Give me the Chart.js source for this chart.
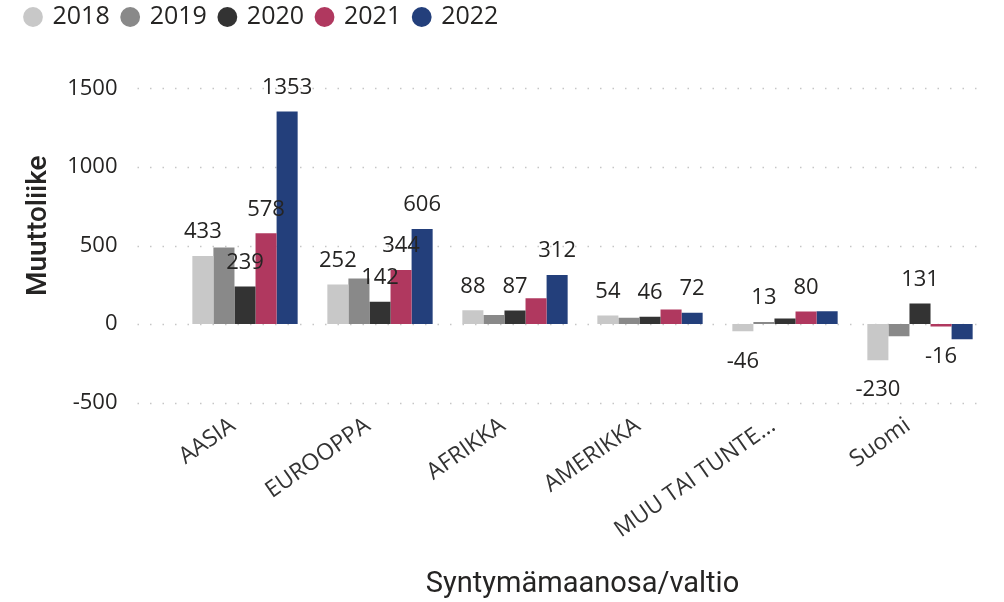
<!DOCTYPE html>
<html>
<head>
<meta charset="utf-8">
<script src="https://cdn.jsdelivr.net/npm/chart.js@4/dist/chart.umd.min.js"></script>
<style>
  html, body { margin: 0; padding: 0; background: #ffffff; }
  #wrap { width: 1004px; height: 602px; }
</style>
</head>
<body>
<div id="wrap"><canvas id="c" width="1004" height="602"></canvas></div>
<script>
// ---- data ----
const categories = ['AASIA', 'EUROOPPA', 'AFRIKKA', 'AMERIKKA', 'MUU TAI TUNTE...', 'Suomi'];
const seriesNames = ['2018', '2019', '2020', '2021', '2022'];
const v2018 = [433, 252, 88, 54, -46, -230];
const v2019 = [488, 290, 57, 40, 13, -78];
const v2020 = [239, 142, 87, 46, 36, 131];
const v2021 = [578, 344, 165, 93, 80, -16];
const v2022 = [1353, 606, 312, 72, 82, -96];
// indices of categories whose value label is visible, per series
const shown2018 = [0, 1, 2, 3, 4, 5];
const shown2019 = [4];
const shown2020 = [0, 1, 2, 3, 5];
const shown2021 = [0, 1, 4, 5];
const shown2022 = [0, 1, 2, 3];
const yTicks = [-500, 0, 500, 1000, 1500];
const yTitle = 'Muuttoliike';
const xTitle = 'Syntymämaanosa/valtio';

const colors = ['#c8c8c8', '#898989', '#333333', '#b0385f', '#233f7b'];
const values = [v2018, v2019, v2020, v2021, v2022];
const shown = [shown2018, shown2019, shown2020, shown2021, shown2022];

const gridPlugin = {
  id: 'dottedGrid',
  beforeDatasetsDraw(chart) {
    const {ctx, chartArea, scales: {y}} = chart;
    ctx.save();
    ctx.strokeStyle = '#c6c6c6';
    ctx.lineWidth = 1.5;
    ctx.setLineDash([1.5, 11]);
    y.ticks.forEach(t => {
      const py = Math.round(y.getPixelForValue(t.value)) + 0.5;
      ctx.beginPath();
      ctx.moveTo(chartArea.left - 40, py);
      ctx.lineTo(chartArea.right, py);
      ctx.stroke();
    });
    ctx.restore();
  }
};

const labelPlugin = {
  id: 'valueLabels',
  afterDatasetsDraw(chart) {
    const {ctx} = chart;
    ctx.save();
    ctx.font = '22px "Open Sans", sans-serif';
    ctx.fillStyle = '#252423';
    ctx.textAlign = 'center';
    ctx.textBaseline = 'middle';
    chart.data.datasets.forEach((ds, di) => {
      const meta = chart.getDatasetMeta(di);
      shown[di].forEach(i => {
        const el = meta.data[i];
        const v = ds.data[i];
        const ty = v >= 0 ? el.y - 24 : el.y + 30;
        ctx.fillText(String(v), el.x, ty);
      });
    });
    ctx.restore();
  }
};

new Chart(document.getElementById('c'), {
  type: 'bar',
  data: {
    labels: categories,
    datasets: seriesNames.map((n, i) => ({
      label: n,
      data: values[i],
      backgroundColor: colors[i],
      borderWidth: 0,
      categoryPercentage: 0.78,
      barPercentage: 1.0
    }))
  },
  options: {
    responsive: false,
    animation: false,
    layout: { padding: { left: 12.5, right: 16.5, top: -9, bottom: 0 } },
    plugins: {
      tooltip: { enabled: false },
      legend: {
        position: 'top',
        align: 'start',
        labels: {
          usePointStyle: true,
          pointStyle: 'circle',
          boxWidth: 14,
          boxHeight: 14,
          padding: 13.5,
          color: '#252423',
          font: { family: '"Open Sans", sans-serif', size: 25 }
        }
      }
    },
    scales: {
      x: {
        grid: { display: false, drawTicks: false },
        border: { display: false },
        ticks: {
          autoSkip: false,
          minRotation: 35,
          maxRotation: 35,
          padding: 0,
          labelOffset: -12,
          color: '#333333',
          font: { family: '"Open Sans", sans-serif', size: 23 }
        },
        title: {
          display: true,
          text: xTitle,
          color: '#252423',
          padding: { top: 4, bottom: 0 },
          font: { family: 'Roboto, sans-serif', size: 29 }
        },
        afterFit(scale) { scale.height = 190; scale.paddingTop = -9; }
      },
      y: {
        min: -560,
        max: 1812,
        grid: { display: false, drawTicks: false },
        border: { display: false },
        afterBuildTicks(scale) { scale.ticks = yTicks.map(v => ({ value: v })); },
        ticks: {
          padding: 60,
          color: '#252423',
          callback: (v) => String(v),
          font: { family: '"Open Sans", sans-serif', size: 22 }
        },
        title: {
          display: true,
          text: yTitle,
          color: '#252423',
          padding: { top: 10, bottom: 0 },
          font: { family: 'Roboto, sans-serif', size: 28, weight: '500' }
        },
        afterFit(scale) { scale.width = 165; scale.paddingTop = -9; scale.paddingBottom = 0; }
      }
    }
  },
  plugins: [gridPlugin, labelPlugin]
});
</script>
</body>
</html>
